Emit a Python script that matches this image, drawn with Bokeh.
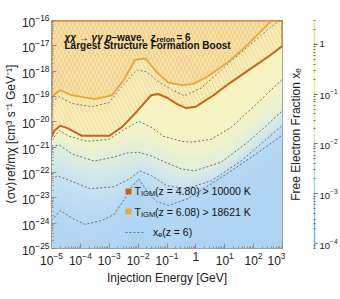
import numpy as np
from bokeh.plotting import figure
from bokeh.models import (Range1d, LogAxis, FixedTicker, LogTickFormatter, Label,
                          BoxAnnotation, LinearColorMapper, Span, Legend, LegendItem)
from bokeh.layouts import row
from bokeh.embed import file_html
from bokeh.resources import INLINE

FONT = "Liberation Sans"

# ---------------- data (log10 values) ----------------
energy_ticks = [1e-5, 1e-4, 1e-3, 1e-2, 1e-1, 1.0, 1e1, 1e2, 1e3]
sigma_ticks = [1e-25, 1e-24, 1e-23, 1e-22, 1e-21, 1e-20, 1e-19, 1e-18, 1e-17, 1e-16]
xe_ticks = [1e-4, 1e-3, 1e-2, 1e-1, 1.0]

# T_IGM(z = 4.80) > 10000 K boundary
dark_logE = [-5.0, -4.9, -4.7, -4.45, -3.95, -3.0, -2.55, -2.05, -1.55, -1.3, -1.0, -0.65, -0.35, 0.0, 0.55, 1.2, 1.9, 2.6, 3.0]
dark_logS = [-20.6, -20.35, -20.15, -20.25, -20.55, -20.55, -20.2, -19.6, -18.95, -18.9, -19.05, -19.3, -19.45, -19.4, -19.0, -18.45, -17.9, -17.35, -17.0]

# T_IGM(z = 6.08) > 18621 K boundary
light_logE = [-5.0, -4.7, -4.3, -3.5, -2.9, -2.5, -2.1, -1.75, -1.35, -0.95, -0.5, -0.1, 0.35, 1.05, 1.75, 2.45, 2.7]
light_logS = [-19.0, -18.75, -18.95, -19.1, -18.95, -18.35, -17.55, -17.5, -18.05, -18.45, -18.55, -18.5, -18.25, -17.7, -17.0, -16.2, -15.9]

# x_e(z = 6) contours (levels in log10 x_e)
xe_levels = [0.0, -1.0, -2.0, -3.0, -3.6]
c1_logE = [-5.0, -4.73, -4.28, -3.59, -3.01, -2.49, -2.04, -1.70, -1.29, -0.84, -0.40, 0.19, 0.88, 1.74, 2.59, 3.04]
c1_logS = [-19.2, -19.01, -19.28, -19.40, -19.24, -18.5, -17.95, -18.03, -18.42, -18.73, -18.97, -18.66, -17.95, -17.09, -16.27, -15.88]
c2_logE = [-5.0, -4.73, -4.38, -3.76, -3.01, -2.49, -1.98, -1.53, -1.12, -0.50, -0.15, 0.53, 1.22, 2.08, 3.04]
c2_logS = [-20.73, -20.34, -20.57, -20.77, -20.69, -20.30, -19.98, -20.22, -20.57, -20.77, -20.80, -20.69, -20.22, -19.32, -18.27]
c3_logE = [-5.0, -4.73, -4.28, -3.52, -2.84, -2.39, -1.98, -1.53, -1.08, -0.50, -0.05, 0.88, 1.80, 2.42, 3.04]
c3_logS = [-20.96, -20.92, -21.27, -21.55, -21.39, -21.23, -21.20, -21.35, -21.59, -21.86, -21.94, -21.59, -20.80, -20.18, -19.52]
c4_logE = [-5.0, -4.79, -3.66, -2.84, -2.29, -1.94, -1.53, -1.01, -0.33, 0.53, 1.56, 3.04]
c4_logS = [-22.25, -22.13, -22.64, -22.56, -22.25, -21.94, -22.13, -22.52, -22.64, -22.33, -21.55, -20.10]
c5_logE = [-5.0, -4.69, -4.28, -3.83, -3.25, -2.84, -2.46, -2.22, -1.98, -1.70, -1.36, -0.94, -0.26, 0.43, 1.22, 2.08, 3.04]
c5_logS = [-23.89, -23.50, -23.81, -24.05, -23.89, -23.66, -23.03, -22.56, -22.25, -22.72, -23.15, -23.30, -23.03, -22.52, -21.94, -21.27, -20.49]
xe_floor, xe_top = -3.75, 0.06

contours = [(c1_logE, c1_logS), (c2_logE, c2_logS), (c3_logE, c3_logS),
            (c4_logE, c4_logS), (c5_logE, c5_logS)]

# ---------------- background field built from the contours ----------------
gx = np.linspace(-5, 3, 320)
gy = np.linspace(-25, -16, 320)
cols = np.array([np.interp(gx, e, s) for e, s in contours])
lv = np.array(xe_levels[::-1])
field = np.zeros((len(gy), len(gx)))
for j in range(len(gx)):
    s = cols[::-1, j] + np.arange(len(lv)) * 1e-4
    s = np.maximum.accumulate(s)
    xp = np.concatenate([[s[0] - 2.0], s, [s[-1] + 1.5]])
    fp = np.concatenate([[xe_floor], lv, [xe_top]])
    field[:, j] = np.interp(gy, xp, fp)

# palette (blue -> pale green -> yellow)
anchors = [(-4.1, (100, 170, 230)), (-3.5, (138, 194, 236)), (-3.0, (163, 207, 233)),
           (-2.5, (184, 218, 216)), (-2.0, (204, 226, 196)), (-1.5, (222, 233, 176)),
           (-1.0, (236, 238, 160)), (-0.5, (242, 236, 150)), (0.0, (242, 228, 140)),
           (0.48, (240, 216, 140))]
av = np.array([a[0] for a in anchors])
ac = np.array([a[1] for a in anchors], dtype=float)
pv = np.linspace(-4.1, 0.48, 256)
palette = ["#%02x%02x%02x" % tuple(int(round(np.interp(v, av, ac[:, k]))) for k in range(3)) for v in pv]
mapper = LinearColorMapper(palette=palette, low=-4.1, high=0.48)

DARK = "#c8651b"
LIGHT = "#eaa43c"
HATCH = "#f1c485"

p = figure(width=285, height=299, x_axis_type="log", y_axis_type="log",
           x_range=Range1d(1e-5, 1e3), y_range=Range1d(1e-25, 1e-16),
           toolbar_location=None, output_backend="svg",
           min_border_left=49, min_border_right=3, min_border_top=20, min_border_bottom=49)
p.grid.visible = False
p.outline_line_color = "#a0a0a0"
p.background_fill_color = "white"

p.image(image=[field], x=1e-5, y=1e-25, dw=1e3 - 1e-5, dh=1e-16 - 1e-25,
        color_mapper=mapper, global_alpha=0.6)

crs = []
for e, s in contours:
    crs.append(p.line(10 ** np.array(e), 10 ** np.array(s), line_color="#707070",
                      line_width=1, line_dash="2 2"))

dx = list(10 ** np.array(dark_logE)) + [1e3, 1e-5]
dy = list(10 ** np.array(dark_logS)) + [1e-16, 1e-16]
p.patch(dx, dy, fill_color="#f5b041", fill_alpha=0.04, hatch_pattern="\\",
        hatch_color=HATCH, hatch_alpha=1.0, hatch_scale=8, hatch_weight=0.6,
        line_color=DARK, line_width=2)
lx = list(10 ** np.array(light_logE)) + [10 ** light_logE[-1], 1e-5]
ly = list(10 ** np.array(light_logS)) + [1e-16, 1e-16]
p.patch(lx, ly, fill_color="#f5b041", fill_alpha=0.12, hatch_pattern="/",
        hatch_color=HATCH, hatch_alpha=1.0, hatch_scale=8, hatch_weight=0.6,
        line_color=LIGHT, line_width=1.8)


def style_axis(ax, ticks, minors):
    ax.ticker = FixedTicker(ticks=ticks, minor_ticks=minors)
    ax.formatter = LogTickFormatter(min_exponent=1)
    ax.major_label_text_font = FONT
    ax.major_label_text_font_size = "12px"
    ax.major_label_text_color = "#222222"
    ax.axis_label_text_font = FONT
    ax.axis_label_text_font_size = "12px"
    ax.axis_label_text_font_style = "normal"
    ax.axis_label_text_color = "#222222"
    ax.axis_line_color = "#a0a0a0"
    ax.major_tick_line_color = "#909090"
    ax.minor_tick_line_color = "#909090"
    ax.major_tick_in = 5
    ax.major_tick_out = 0
    ax.minor_tick_in = 2
    ax.minor_tick_out = 0
    ax.major_label_standoff = 3
    ax.axis_label_standoff = 3


xminor = [m * 10.0 ** k for k in range(-5, 3) for m in range(2, 10)]
yminor = [m * 10.0 ** k for k in range(-25, -16) for m in range(2, 10)]
style_axis(p.xaxis[0], energy_ticks, xminor)
style_axis(p.yaxis[0], sigma_ticks, yminor)
p.xaxis.axis_label = "Injection Energy [GeV]"
p.yaxis.axis_label = "\u27e8\u03c3v\u27e9ref/m\u03c7 [cm\u00b3 s\u207b\u00b9 GeV\u207b\u00b9]"
p.yaxis.major_label_standoff = 2
p.yaxis.axis_label_standoff = 1


def lab(txt, x, y, size, style="bold", color="#111111", base="alphabetic"):
    p.add_layout(Label(x=x, y=y, x_units="screen", y_units="screen", text=txt,
                       text_font=FONT, text_font_size=size, text_font_style=style,
                       text_color=color, text_baseline=base))


# title texts (screen units relative to the frame)
lab("\u03c7\u03c7 \u2192 \u03b3\u03b3 p", 13, 211.5, "10px", "bold italic")
lab("\u2013wave,", 60, 211.5, "10px", "bold")
lab("z", 99, 211.5, "10px", "bold italic")
lab("reion", 105, 209.5, "7.5px", "bold")
lab("= 6", 125, 211.5, "10px", "bold")
lab("Largest Structure Formation Boost", 13, 203, "10px", "bold")

# legend
p.add_layout(BoxAnnotation(left=74, right=80, bottom=54, top=60, left_units="screen",
                           right_units="screen", bottom_units="screen", top_units="screen",
                           fill_color=DARK, fill_alpha=1, line_color=None))
p.add_layout(BoxAnnotation(left=74, right=80, bottom=34, top=40, left_units="screen",
                           right_units="screen", bottom_units="screen", top_units="screen",
                           fill_color=LIGHT, fill_alpha=1, line_color=None))
lab("T", 83, 57.5, "10.5px", "normal", base="middle")
lab("IGM", 89.5, 55, "7.5px", "normal", base="middle")
lab("(z = 4.80) > 10000 K", 103.5, 57.5, "10.5px", "normal", base="middle")
lab("T", 83, 37, "10.5px", "normal", base="middle")
lab("IGM", 89.5, 34.5, "7.5px", "normal", base="middle")
lab("(z = 6.08) > 18621 K", 103.5, 37, "10.5px", "normal", base="middle")
leg = Legend(items=[LegendItem(label="x\u2091(z = 6)", renderers=[crs[0]])], location=(74, 10),
             background_fill_alpha=0, border_line_color=None, glyph_width=19, glyph_height=10,
             label_standoff=9, padding=0, margin=0, label_text_font=FONT,
             label_text_font_size="10.5px", label_height=10, label_text_color="#111111")
p.add_layout(leg)

# ---------------- colour bar ----------------
cb = figure(width=55, height=299, x_range=Range1d(0, 1), y_range=Range1d(10 ** -4.1, 10 ** 0.48),
            y_axis_type="log", y_axis_location="right", toolbar_location=None,
            output_backend="svg", min_border_left=22, min_border_right=23,
            min_border_top=20, min_border_bottom=51)
cb.grid.visible = False
cb.xaxis.visible = False
cb.outline_line_color = None
cb.image(image=[pv.reshape(-1, 1)], x=0, y=10 ** -4.1, dw=1, dh=10 ** 0.48 - 10 ** -4.1,
         color_mapper=mapper)
for lvl in xe_levels:
    cb.add_layout(Span(location=10 ** lvl, dimension="width", line_color="#555555", line_width=1.2))
ya = cb.yaxis[0]
ya.ticker = FixedTicker(ticks=xe_ticks,
                        minor_ticks=[m * 10.0 ** k for k in range(-5, 1) for m in range(2, 10)])
ya.formatter = LogTickFormatter(min_exponent=1)
ya.major_label_text_font = FONT
ya.major_label_text_font_size = "9.5px"
ya.major_label_text_color = "#222222"
ya.axis_line_color = None
ya.major_tick_line_color = "#555555"
ya.minor_tick_line_color = "#777777"
ya.major_tick_in = 0
ya.major_tick_out = 2
ya.minor_tick_in = 2
ya.minor_tick_out = 0
ya.major_label_standoff = 2
la = LogAxis(ticker=FixedTicker(ticks=[]), axis_label="Free Electron Fraction x\u2091",
             axis_label_text_font=FONT, axis_label_text_font_size="12px",
             axis_label_text_font_style="normal", axis_label_text_color="#222222",
             axis_line_color=None, major_tick_line_color=None, minor_tick_line_color=None,
             axis_label_standoff=11, major_label_standoff=0)
cb.add_layout(la, "left")

layout = row(p, cb)
open("out.html", "w").write(file_html(layout, INLINE))
